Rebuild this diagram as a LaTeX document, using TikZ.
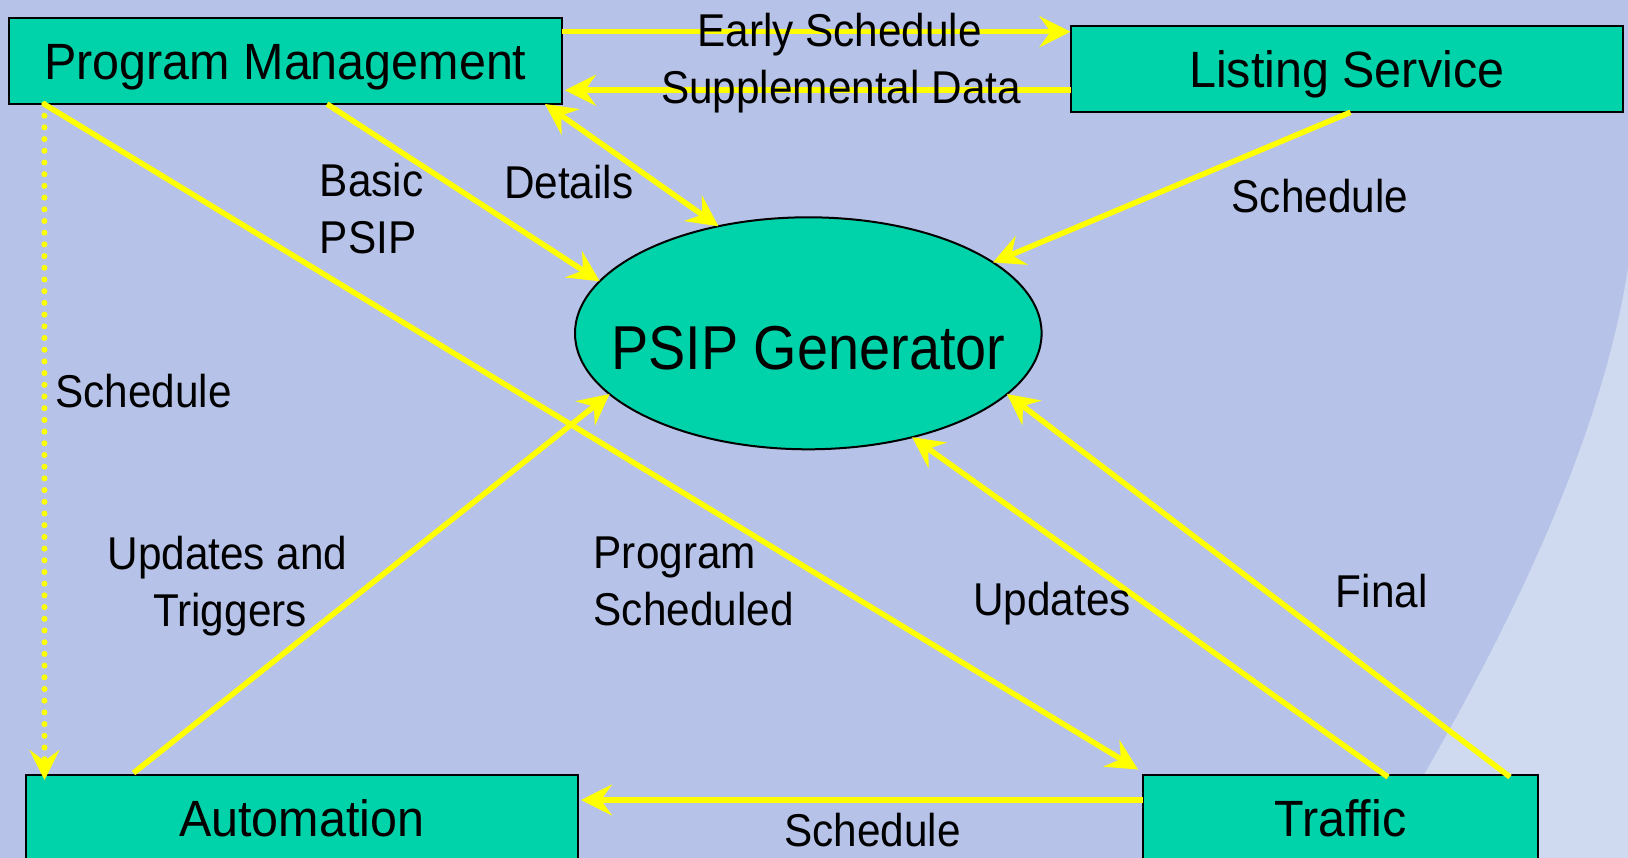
\documentclass[tikz,border=0pt]{standalone}
\usepackage{fontspec}
\setmainfont{Liberation Sans}
\newfontfamily\lblfont[FakeStretch=0.92]{Liberation Sans}
\newfontfamily\boxfont[FakeStretch=0.95]{Liberation Sans}
\newfontfamily\genfont[FakeStretch=0.9]{Liberation Sans}
\usetikzlibrary{shapes.geometric,arrows.meta,calc}
\definecolor{bgc}{RGB}{182,194,231}
\definecolor{bgl}{RGB}{207,218,240}
\definecolor{boxfill}{RGB}{0,210,170}
\definecolor{yel}{RGB}{255,255,0}
\begin{document}
\begin{tikzpicture}[x=1pt,y=-1pt,
  box/.style={draw=black, line width=2pt, fill=boxfill, rectangle, inner sep=0pt, outer sep=0pt,
    text height=36.5pt, text depth=0pt, font=\boxfont\fontsize{51}{60}\selectfont},
  genshape/.style={draw=black, line width=2pt, fill=boxfill, ellipse, outer sep=0pt,
    inner xsep=-90pt, inner ysep=0pt, text height=73.4pt, text depth=0pt,
    minimum width=466.6pt, minimum height=232pt, font=\genfont\fontsize{62}{70}\selectfont},
  arr/.style={draw=yel, line width=5.5pt, -{Stealth[length=31pt,width=31pt,inset=11pt]}},
  darr/.style={draw=yel, line width=5.5pt, {Stealth[length=31pt,width=31pt,inset=11pt]}-{Stealth[length=31pt,width=31pt,inset=11pt]}},
  dotarr/.style={draw=yel, line width=6pt, line cap=round, dash pattern=on 0pt off 11.7pt,
    -{Stealth[length=30pt,width=30pt,inset=11pt]}},
  lbl/.style={inner sep=0pt, text=black, font=\lblfont\fontsize{46}{57}\selectfont}
]
\useasboundingbox (0,0) rectangle (1628,858);
\clip (0,0) rectangle (1628,858);
% background
\fill[bgc] (0,0) rectangle (1628,858);
\fill[bgl] (1630,255) .. controls (1600,470) and (1470,700) .. (1375,858) -- (1630,858) -- cycle;

% nodes
\node[box, minimum width=553pt, minimum height=86pt] (pm) at (285.5,61) {Program Management};
\node[box, minimum width=552.5pt, minimum height=86pt] (ls) at (1346.75,69.25) {Listing Service};
\node[box, minimum width=552.5pt, minimum height=86pt] (auto) at (301.75,818) {Automation};
\node[box, minimum width=394.8pt, minimum height=86pt] (tr) at (1340.4,818) {Traffic};
\node[genshape] (gen) at (808.3,333.3) {PSIP Generator};

% connectors
\draw[arr] ($(pm.north east)+(0,13.75)$) -- ($(ls.north west)+(0,5.5)$);
\draw[arr] ($(ls.north west)+(0,64)$) -- ($(pm.north east)+(3,72.25)$);
\draw[darr] ($(pm.south east)+(-17,0)$) -- (gen.130);
\draw[arr] ($(pm.south west)+(318,0)$) -- (gen.166);
\draw[arr] ($(ls.south west)+(280,0)$) -- (gen.21);
\draw[arr] ($(pm.south west)+(35,0)$) -- ($(tr.north west)+(-5,-5.5)$);
\draw[dotarr] ($(pm.south west)+(35.4,0)$) -- ($(auto.north west)+(19,5)$);
\draw[arr] ($(auto.north west)+(108,-2)$) -- (gen.197);
\draw[arr] ($(tr.north west)+(245,2)$) -- (gen.315);
\draw[arr] ($(tr.north west)+(367,2)$) -- (gen.343);
\draw[arr] ($(tr.north west)+(0,25)$) -- ($(auto.north east)+(3,25)$);

% labels
\node[lbl, anchor=base] (les) at (839.6,46.7) {Early Schedule};
\node[lbl, anchor=base] (lsd) at (841,104) {Supplemental Data};
\node[lbl, anchor=base west] (lbasic1) at (319.6,196.7) {Basic};
\node[lbl, anchor=base west] (lbasic2) at (319.6,253.3) {PSIP};
\node[lbl, anchor=base west] (ldet) at (503.8,199) {Details};
\node[lbl, anchor=base west] (lsch1) at (1231.5,212.4) {Schedule};
\node[lbl, anchor=base west] (lsch2) at (55,407.3) {Schedule};
\node[lbl, anchor=base] (lupd1) at (227.5,569.3) {Updates and};
\node[lbl, anchor=base] (lupd2) at (230,626.7) {Triggers};
\node[lbl, anchor=base west] (lprog1) at (593.5,568.3) {Program};
\node[lbl, anchor=base west] (lprog2) at (593.5,625) {Scheduled};
\node[lbl, anchor=base west] (lupd) at (972.9,615) {Updates};
\node[lbl, anchor=base west] (lfin) at (1335.6,607.6) {Final};
\node[lbl, anchor=base] (lsch3) at (872.4,846.7) {Schedule};
\end{tikzpicture}
\end{document}
